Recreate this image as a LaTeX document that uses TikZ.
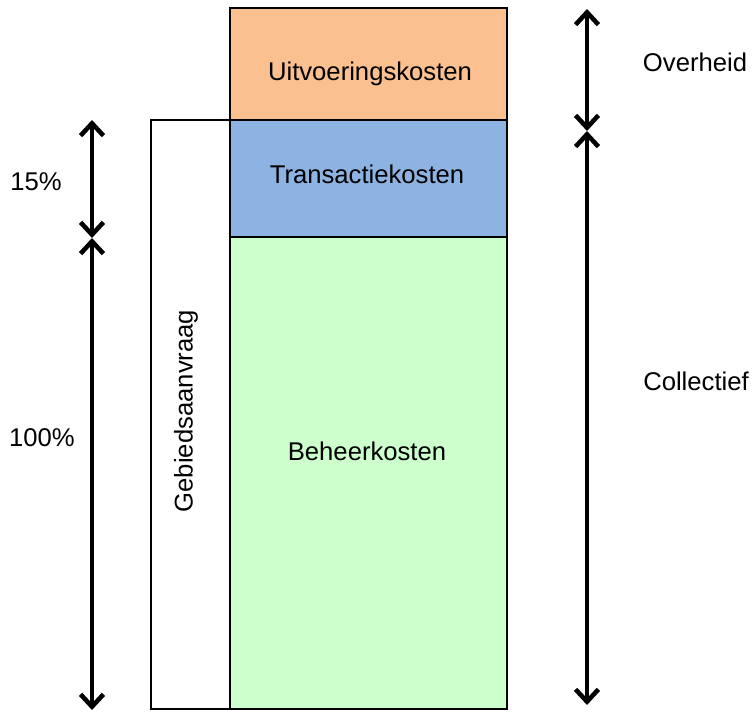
\documentclass[tikz,border=0pt]{standalone}
\usepackage{fontspec}
\setmainfont{Liberation Sans}
\usetikzlibrary{arrows.meta}
\definecolor{orng}{HTML}{FAC090}
\definecolor{blu}{HTML}{8DB3E2}
\definecolor{grn}{HTML}{CCFFCC}
\begin{document}
\begin{tikzpicture}[x=0.02cm,y=-0.02cm,
  box/.style={draw=black,line width=1.4pt},
  dbl/.style={line width=2.8pt,{Straight Barb[length=7pt,width=13pt,line width=2.6pt]}-{Straight Barb[length=7pt,width=13pt,line width=2.6pt]}},
  lbl/.style={font=\fontsize{14.6pt}{16pt}\selectfont}]
\useasboundingbox (0,0) rectangle (753,715);
\draw[box,fill=white] (151,120) rectangle (230,709);
\draw[box,fill=orng] (230,8) rectangle (507,120);
\draw[box,fill=blu] (230,120) rectangle (507,237);
\draw[box,fill=grn] (230,237) rectangle (507,709);
\node[lbl] (u) at (370,74) {Uitvoeringskosten};
\node[lbl] (t) at (367,174) {Transactiekosten};
\node[lbl] (b) at (367,451) {Beheerkosten};
\node[lbl,rotate=90] (g) at (186,411) {Gebiedsaanvraag};
\coordinate (l1) at (92,120);
\coordinate (l2) at (92,238);
\coordinate (l3) at (92,710);
\coordinate (r1) at (587,9);
\coordinate (r2) at (587,131);
\coordinate (r3) at (587,705);
\draw[dbl] (l1) -- (l2);
\draw[dbl] (l2) -- (l3);
\draw[dbl] (r1) -- (r2);
\draw[dbl] (r2) -- (r3);
\node[lbl] (p15) at (36,182) {15\%};
\node[lbl] (p100) at (42,438) {100\%};
\node[lbl] (ov) at (695,62) {Overheid};
\node[lbl] (co) at (696,381) {Collectief};
\end{tikzpicture}
\end{document}
